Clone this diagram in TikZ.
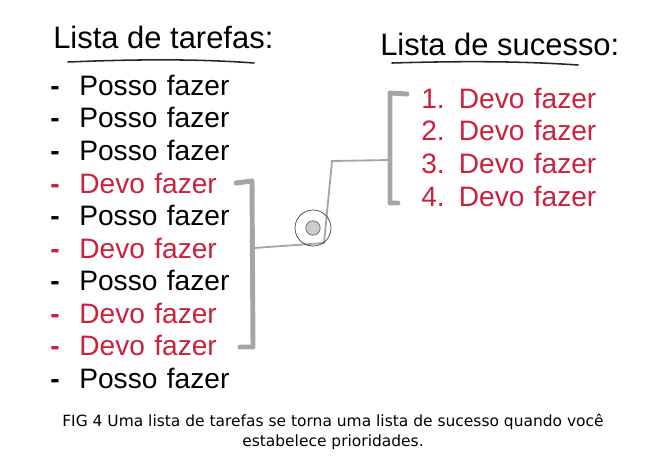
\documentclass[tikz,border=0pt]{standalone}
\usepackage{fontspec}
\setmainfont{Liberation Sans}
\newfontfamily\legendafont{DejaVu Sans}
\usepackage{xcolor}
\usepackage{tikz}
\usetikzlibrary{positioning, calc}
\definecolor{devored}{RGB}{203,32,62}
\definecolor{traco}{RGB}{165,165,165}
\tikzset{
  titulo/.style={
    font=\fontsize{22}{26}\selectfont,
    inner sep=0pt
  },
  sublinha/.style={
    line width=1.1pt,
    black!85,
    line cap=round
  },
  tarefa/.style={
    font=\fontsize{20}{24}\selectfont,
    text width=5cm,
    align=left,
    text height=0.5cm,
    text depth=0.14cm,
    inner sep=0pt
  },
  devo/.style={
    tarefa,
    text=devored
  },
  sucesso/.style={
    devo,
    text width=4.6cm
  },
  colchete/.style={
    draw=traco,
    line width=3.5pt,
    line cap=round,
    line join=round
  },
  ligacao/.style={
    draw=traco,
    line width=1.3pt,
    line cap=round
  },
  alvo/.style={
    circle,
    draw=black!75,
    line width=0.5pt,
    minimum size=0.9cm,
    inner sep=0pt
  },
  miolo/.style={
    circle,
    draw=black!60,
    fill=black!20,
    line width=0.5pt,
    minimum size=0.36cm,
    inner sep=0pt
  },
  legenda/.style={
    font=\legendafont\fontsize{11}{14.5}\selectfont,
    align=center,
    inner sep=0pt
  }
}
\begin{document}
\begin{tikzpicture}[x=0.025cm, y=-0.025cm, node distance=0.16cm]
  \useasboundingbox (0,0) rectangle (662,469);
  % lista da esquerda
  \node[titulo, anchor=base west] (tt) at (53,48) {Lista de tarefas:};
  \draw[sublinha] (68,62) .. controls (140,59) and (200,59) .. (254,63);
  \node[tarefa, anchor=north west] (t1) at (50,75) {\textbf{-}\hspace{0.7em}Posso fazer};
  \node[tarefa, below=of t1] (t2) {\textbf{-}\hspace{0.7em}Posso fazer};
  \node[tarefa, below=of t2] (t3) {\textbf{-}\hspace{0.7em}Posso fazer};
  \node[devo, below=of t3] (t4) {\textbf{-}\hspace{0.7em}Devo fazer};
  \node[tarefa, below=of t4] (t5) {\textbf{-}\hspace{0.7em}Posso fazer};
  \node[devo, below=of t5] (t6) {\textbf{-}\hspace{0.7em}Devo fazer};
  \node[tarefa, below=of t6] (t7) {\textbf{-}\hspace{0.7em}Posso fazer};
  \node[devo, below=of t7] (t8) {\textbf{-}\hspace{0.7em}Devo fazer};
  \node[devo, below=of t8] (t9) {\textbf{-}\hspace{0.7em}Devo fazer};
  \node[tarefa, below=of t9] (t10) {\textbf{-}\hspace{0.7em}Posso fazer};
  % lista da direita
  \node[titulo, anchor=base west] (ts) at (380,55) {Lista de sucesso:};
  \draw[sublinha] (392,63) .. controls (460,61) and (520,61) .. (578,65);
  \node[sucesso, anchor=north west] (s1) at (421,88) {1. Devo fazer};
  \node[sucesso, below=of s1] (s2) {2. Devo fazer};
  \node[sucesso, below=of s2] (s3) {3. Devo fazer};
  \node[sucesso, below=of s3] (s4) {4. Devo fazer};
  % colchetes e ligacao
  \coordinate (lt) at (236,183);
  \coordinate (lb) at (240,347);
  \coordinate (lm) at (254,248);
  \coordinate (k1) at (324,243);
  \coordinate (k2) at (332,161);
  \coordinate (rm) at (390,160);
  \coordinate (rt) at (407,94);
  \coordinate (rb) at (398,203);
  \draw[colchete] (lt) -- (252,181) -- (253,347) -- (lb);
  \draw[colchete] (rt) -- (390,93) -- (390,203) -- (rb);
  \draw[ligacao] (lm) -- (k1) -- (k2) -- (rm);
  \node[alvo] (hub) at (313,228) {};
  \node[miolo] (hubin) at (hub) {};
  % legenda
  \node[legenda] (leg) at (333,432)
    {FIG 4 Uma lista de tarefas se torna uma lista de sucesso quando você\\estabelece prioridades.};
\end{tikzpicture}
\end{document}
